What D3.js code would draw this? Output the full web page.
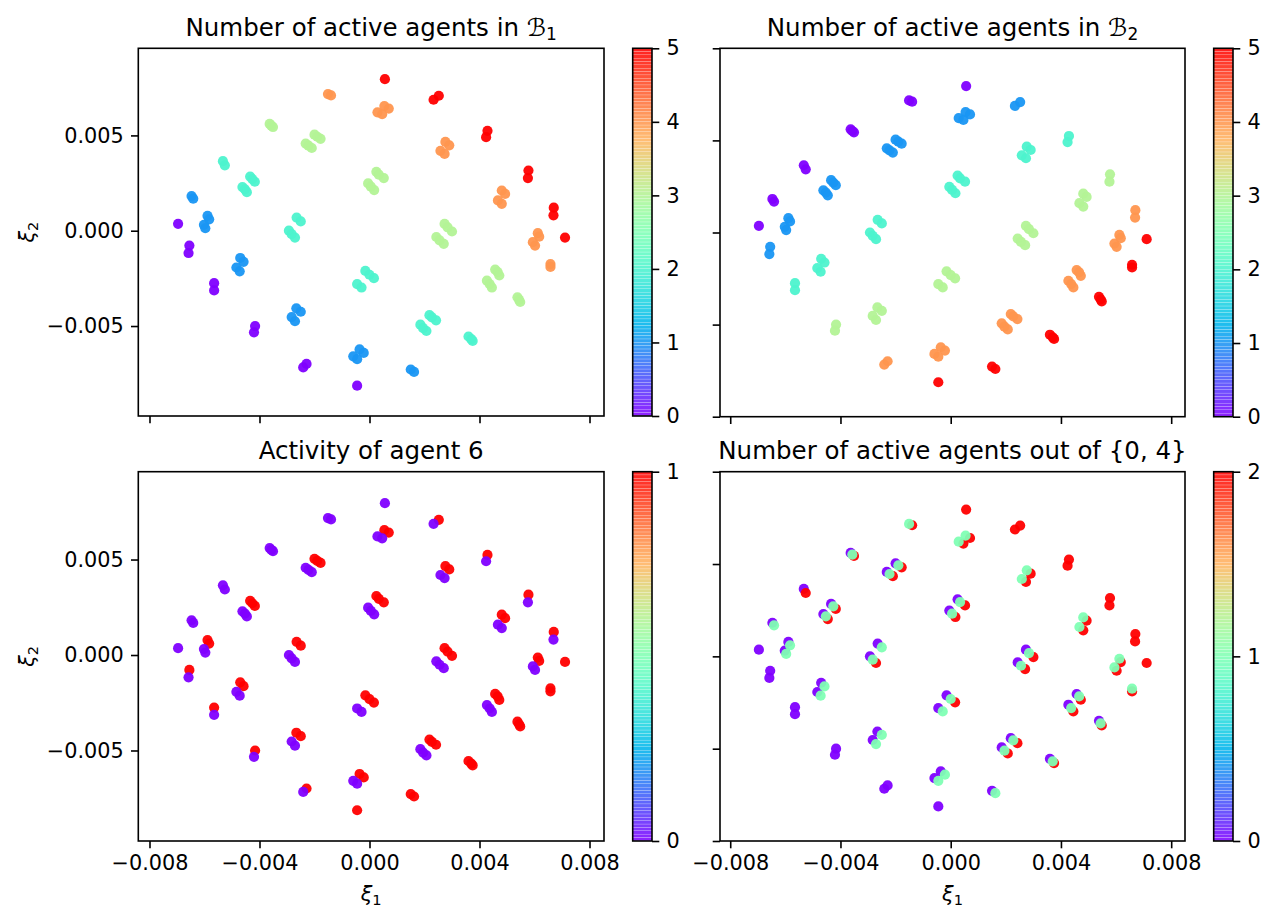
<!DOCTYPE html>
<html>
<head>
<meta charset="utf-8">
<script src="https://cdn.jsdelivr.net/npm/d3@7"></script>
<style>
  body { margin: 0; background: #fff; }
  svg { font-family: "DejaVu Sans", sans-serif; }
</style>
</head>
<body>
<svg id="fig" width="1275" height="923"></svg>
<script>
// embedding coordinates of every state, in units of 1e-3
const xi1 = [
  0.56,
  -1.51, -1.40,
  -3.63, -3.57, -3.51,
  -5.33, -5.26,
  -6.47, -6.41,
  -6.96,
  2.33,
  2.52,
  0.54, 0.70,
  0.29, 0.46,
  -2.00, -1.90, -1.78,
  -2.32, -2.22, -2.10,
  -4.34, -4.26, -4.17,
  -4.62, -4.53, -4.46,
  -5.89, -5.83,
  -6.02, -5.97,
  -6.55,
  -6.58,
  4.29,
  4.24,
  2.76, 2.90,
  2.58, 2.73,
  0.25, 0.34, 0.52,
  -0.05, 0.05, 0.17,
  -2.65, -2.50,
  -2.93, -2.83, -2.71,
  -4.70, -4.58,
  -4.84, -4.72,
  -5.65,
  -5.65,
  5.78,
  5.76,
  4.81, 4.93,
  4.67, 4.81,
  2.73, 2.84, 3.00,
  2.43, 2.55, 2.70,
  -0.15, 0.00, 0.16,
  -0.45, -0.29,
  -2.66, -2.50,
  -2.83, -2.71,
  -4.16,
  -4.20,
  6.70,
  6.69,
  6.12, 6.17,
  5.94, 6.02,
  4.57, 4.66, 4.72,
  4.27, 4.37, 4.45,
  2.18, 2.27, 2.42,
  1.85, 1.95, 2.07,
  -0.36, -0.21,
  -0.59, -0.45,
  -2.29,
  -2.41,
  7.11,
  6.58, 6.58,
  5.38, 5.44, 5.48,
  3.60, 3.70, 3.75,
  1.50, 1.62,
  -0.45
];
const xi2 = [
  7.95,
  7.17, 7.10,
  5.60, 5.51, 5.44,
  3.65, 3.43,
  1.82, 1.68,
  0.36,
  6.87,
  7.08,
  6.54, 6.41,
  6.21, 6.11,
  5.04, 4.93, 4.82,
  4.57, 4.46, 4.34,
  2.84, 2.71, 2.57,
  2.29, 2.17, 2.02,
  0.78, 0.60,
  0.31, 0.13,
  -0.78,
  -1.17,
  5.24,
  4.91,
  4.66, 4.48,
  4.19, 4.03,
  3.09, 2.94, 2.76,
  2.48, 2.31, 2.13,
  0.69, 0.49,
  0.00, -0.18, -0.36,
  -1.43, -1.63,
  -1.93, -2.13,
  -2.75,
  -3.13,
  3.16,
  2.76,
  2.11, 1.93,
  1.59, 1.41,
  0.36, 0.18, -0.04,
  -0.33, -0.51, -0.69,
  -2.11, -2.31, -2.49,
  -2.80, -2.98,
  -4.07, -4.25,
  -4.53, -4.75,
  -5.00,
  -5.33,
  1.21,
  0.81,
  -0.13, -0.31,
  -0.60, -0.78,
  -2.04, -2.17, -2.35,
  -2.62, -2.80, -2.98,
  -4.43, -4.55, -4.70,
  -4.93, -5.11, -5.26,
  -6.23, -6.41,
  -6.59, -6.74,
  -6.99,
  -7.17,
  -0.36,
  -1.75, -1.90,
  -3.49, -3.63, -3.74,
  -5.55, -5.69, -5.78,
  -7.28, -7.41,
  -8.13
];
const activeB1 = [
  5,
  4, 4,
  3, 3, 3,
  2, 2,
  1, 1,
  0,
  5,
  5,
  4, 4,
  4, 4,
  3, 3, 3,
  3, 3, 3,
  2, 2, 2,
  2, 2, 2,
  1, 1,
  1, 1,
  0,
  0,
  5,
  5,
  4, 4,
  4, 4,
  3, 3, 3,
  3, 3, 3,
  2, 2,
  2, 2, 2,
  1, 1,
  1, 1,
  0,
  0,
  5,
  5,
  4, 4,
  4, 4,
  3, 3, 3,
  3, 3, 3,
  2, 2, 2,
  2, 2,
  1, 1,
  1, 1,
  0,
  0,
  5,
  5,
  4, 4,
  4, 4,
  3, 3, 3,
  3, 3, 3,
  2, 2, 2,
  2, 2, 2,
  1, 1,
  1, 1,
  0,
  0,
  5,
  4, 4,
  3, 3, 3,
  2, 2, 2,
  1, 1,
  0
];
const activeB2 = [
  0,
  0, 0,
  0, 0, 0,
  0, 0,
  0, 0,
  0,
  1,
  1,
  1, 1,
  1, 1,
  1, 1, 1,
  1, 1, 1,
  1, 1, 1,
  1, 1, 1,
  1, 1,
  1, 1,
  1,
  1,
  2,
  2,
  2, 2,
  2, 2,
  2, 2, 2,
  2, 2, 2,
  2, 2,
  2, 2, 2,
  2, 2,
  2, 2,
  2,
  2,
  3,
  3,
  3, 3,
  3, 3,
  3, 3, 3,
  3, 3, 3,
  3, 3, 3,
  3, 3,
  3, 3,
  3, 3,
  3,
  3,
  4,
  4,
  4, 4,
  4, 4,
  4, 4, 4,
  4, 4, 4,
  4, 4, 4,
  4, 4, 4,
  4, 4,
  4, 4,
  4,
  4,
  5,
  5, 5,
  5, 5, 5,
  5, 5, 5,
  5, 5,
  5
];
const agent6 = [
  0,
  0, 0,
  0, 0, 0,
  0, 0,
  0, 0,
  0,
  0,
  1,
  1, 1,
  0, 0,
  1, 1, 1,
  0, 0, 0,
  1, 1, 1,
  0, 0, 0,
  1, 1,
  0, 0,
  1,
  0,
  1,
  0,
  1, 1,
  0, 0,
  1, 1, 1,
  0, 0, 0,
  1, 1,
  0, 0, 0,
  1, 1,
  0, 0,
  1,
  0,
  1,
  0,
  1, 1,
  0, 0,
  1, 1, 1,
  0, 0, 0,
  1, 1, 1,
  0, 0,
  1, 1,
  0, 0,
  1,
  0,
  1,
  0,
  1, 1,
  0, 0,
  1, 1, 1,
  0, 0, 0,
  1, 1, 1,
  0, 0, 0,
  1, 1,
  0, 0,
  1,
  0,
  1,
  1, 1,
  1, 1, 1,
  1, 1, 1,
  1, 1,
  1
];
const active04 = [
  2,
  1, 2,
  0, 1, 2,
  0, 2,
  0, 1,
  0,
  2,
  2,
  1, 2,
  1, 2,
  0, 1, 2,
  0, 1, 2,
  0, 1, 2,
  0, 1, 2,
  0, 1,
  0, 1,
  0,
  0,
  2,
  2,
  1, 2,
  1, 2,
  0, 1, 2,
  0, 1, 2,
  0, 1,
  0, 1, 2,
  0, 1,
  0, 1,
  0,
  0,
  2,
  2,
  1, 2,
  1, 2,
  0, 1, 2,
  0, 1, 2,
  0, 1, 2,
  0, 1,
  0, 1,
  0, 1,
  0,
  0,
  2,
  2,
  1, 2,
  1, 2,
  0, 1, 2,
  0, 1, 2,
  0, 1, 2,
  0, 1, 2,
  0, 1,
  0, 1,
  0,
  0,
  2,
  1, 2,
  0, 1, 2,
  0, 1, 2,
  0, 1,
  0
];
const xTicks = [-0.008, -0.004, 0, 0.004, 0.008];
const yTicks = [-0.01, -0.005, 0, 0.005, 0.01];

const points = xi1.map((x, i) => ({ x: x * 1e-3, y: xi2[i] * 1e-3, i }));

// matplotlib "rainbow"
const rainbow = t => {
  const r = Math.min(1, Math.abs(2 * t - 0.5));
  const g = Math.max(0, Math.sin(Math.PI * t));
  const b = Math.max(0, Math.cos(Math.PI * t / 2));
  return d3.rgb(r * 255, g * 255, b * 255).formatHex();
};

const panels = [
  { title: [{ t: 'Number of active agents in ' }, { t: 'ℬ', cal: true }, { t: '1', sub: true }],
    values: activeB1, vmax: 5, box: [138.3, 48.3, 604, 416],
    xDom: [-0.008407, 0.008527], yDom: [-0.00972, 0.00957], xLab: false, yLab: true, order: [0, 1, 2, 3, 4, 5] },
  { title: [{ t: 'Number of active agents in ' }, { t: 'ℬ', cal: true }, { t: '2', sub: true }],
    values: activeB2, vmax: 5, box: [720, 48.3, 1185, 416.7],
    xDom: [-0.008371, 0.008501], yDom: [-0.01, 0.01], xLab: false, yLab: false, order: [0, 1, 2, 3, 4, 5] },
  { title: [{ t: 'Activity of agent 6' }],
    values: agent6, vmax: 1, box: [138.3, 471.7, 604, 841],
    xDom: [-0.008407, 0.008527], yDom: [-0.00974, 0.0096], xLab: true, yLab: true, order: [1, 0] },
  { title: [{ t: 'Number of active agents out of {0, 4}' }],
    values: active04, vmax: 2, box: [720, 471.7, 1185, 841],
    xDom: [-0.008371, 0.008501], yDom: [-0.01, 0.01], xLab: true, yLab: false, order: [0, 2, 1] }
];

const svg = d3.select('#fig');
const tickLen = 7.3, tickPad = 7.3, fs = 20.8, lw = 1.6;

panels.forEach(p => {
  const [x0, y0, x1, y1] = p.box;
  const xScale = d3.scaleLinear().domain(p.xDom).range([x0, x1]);
  const yScale = d3.scaleLinear().domain(p.yDom).range([y1, y0]);
  const color = v => rainbow(v / p.vmax);
  const g = svg.append('g');

  // points, drawn in the chosen colour order
  const pts = p.order.flatMap(v => points.filter(d => p.values[d.i] === v));
  g.append('g').selectAll('circle')
    .data(pts)
    .enter()
    .append('circle')
    .attr('cx', d => xScale(d.x))
    .attr('cy', d => yScale(d.y))
    .attr('r', 5.1)
    .attr('fill', d => color(p.values[d.i]))
    .attr('fill-opacity', 0.95);

  // axes
  const xAxis = d3.axisBottom(xScale).tickValues(xTicks).tickSize(tickLen).tickSizeOuter(0).tickPadding(tickPad)
    .tickFormat(p.xLab ? d3.format('.3f') : () => '');
  const yAxis = d3.axisLeft(yScale).tickValues(yTicks.filter(t => t >= p.yDom[0] - 1e-9 && t <= p.yDom[1] + 1e-9))
    .tickSize(tickLen).tickSizeOuter(0).tickPadding(tickPad)
    .tickFormat(p.yLab ? d3.format('.3f') : () => '');
  [
    g.append('g').attr('transform', 'translate(0,' + y1 + ')').call(xAxis),
    g.append('g').attr('transform', 'translate(' + x0 + ',0)').call(yAxis)
  ].forEach(ax => {
    ax.select('.domain').remove();
    ax.selectAll('line').attr('stroke', '#000').attr('stroke-width', lw);
    ax.selectAll('text').attr('fill', '#000').style('font-size', fs + 'px').style('font-family', '"DejaVu Sans"');
  });
  g.append('rect')
    .attr('x', x0).attr('y', y0).attr('width', x1 - x0).attr('height', y1 - y0)
    .attr('fill', 'none').attr('stroke', '#000').attr('stroke-width', lw);

  // title
  const title = g.append('text')
    .attr('x', (x0 + x1) / 2).attr('y', y0 - 12.5)
    .attr('text-anchor', 'middle').style('font-size', '24.5px');
  p.title.forEach(s => {
    const ts = title.append('tspan').text(s.t);
    if (s.cal) ts.style('font-family', '"DejaVu Sans"');
    if (s.sub) ts.style('font-size', '17px').attr('dy', 4);
  });

  // axis labels
  if (p.xLab) {
    const xl = g.append('text').attr('x', (x0 + x1) / 2).attr('y', 901)
      .attr('text-anchor', 'middle').style('font-size', fs + 'px');
    xl.append('tspan').text('ξ').style('font-style', 'italic');
    xl.append('tspan').text('1').style('font-size', '14.6px').attr('dy', 4);
  }
  if (p.yLab) {
    const yl = g.append('text')
      .attr('transform', 'translate(34,' + (y0 + y1) / 2 + ') rotate(-90)')
      .attr('text-anchor', 'middle').style('font-size', fs + 'px');
    yl.append('tspan').text('ξ').style('font-style', 'italic');
    yl.append('tspan').text('2').style('font-size', '14.6px').attr('dy', 4);
  }

  // colorbar
  const cx0 = x1 + 28.7, cw = 19.3;
  const cScale = d3.scaleLinear().domain([0, p.vmax]).range([y1, y0]);
  const nBands = 110;
  const cb = svg.append('g');
  cb.selectAll('rect.band')
    .data(d3.range(nBands))
    .enter()
    .append('rect')
    .attr('class', 'band')
    .attr('x', cx0)
    .attr('width', cw)
    .attr('y', k => cScale((k + 1) / nBands * p.vmax))
    .attr('height', k => cScale(k / nBands * p.vmax) - cScale((k + 1) / nBands * p.vmax) - 0.3)
    .attr('fill', k => rainbow((k + 0.5) / nBands))
    .attr('fill-opacity', 0.88);
  const cAxis = d3.axisRight(cScale).tickValues(d3.range(0, p.vmax + 1)).tickSize(tickLen).tickSizeOuter(0)
    .tickPadding(tickPad).tickFormat(d3.format('d'));
  const ca = cb.append('g').attr('transform', 'translate(' + (cx0 + cw) + ',0)').call(cAxis);
  ca.select('.domain').remove();
  ca.selectAll('line').attr('stroke', '#000').attr('stroke-width', lw);
  ca.selectAll('text').attr('fill', '#000').style('font-size', fs + 'px').style('font-family', '"DejaVu Sans"');
  cb.append('rect')
    .attr('x', cx0).attr('y', y0).attr('width', cw).attr('height', y1 - y0)
    .attr('fill', 'none').attr('stroke', '#000').attr('stroke-width', lw);
});
</script>
</body>
</html>
